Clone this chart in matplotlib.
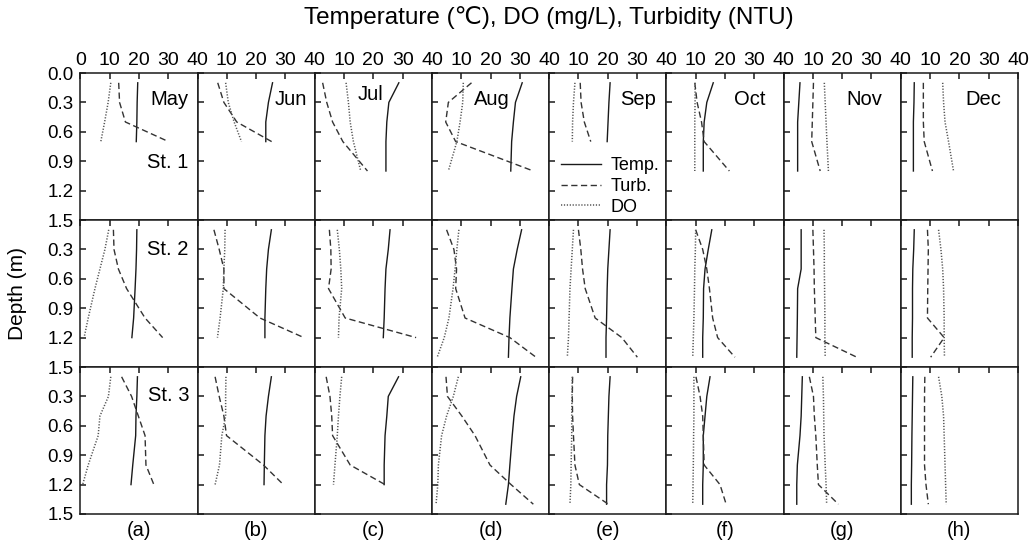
import matplotlib
matplotlib.use('Agg')
import matplotlib.pyplot as plt
from matplotlib.ticker import FixedLocator, FuncFormatter

plt.rcParams['font.family'] = ['Liberation Sans', 'DejaVu Sans']

months = ['May', 'Jun', 'Jul', 'Aug', 'Sep', 'Oct', 'Nov', 'Dec']
panel_tags = ['(a)', '(b)', '(c)', '(d)', '(e)', '(f)', '(g)', '(h)']
stations = ['St. 1', 'St. 2', 'St. 3']

d4 = [0.1, 0.3, 0.5, 0.7]
d5 = [0.1, 0.3, 0.5, 0.7, 1.0]
d6 = [0.1, 0.3, 0.5, 0.7, 1.0, 1.2]
d7 = [0.1, 0.3, 0.5, 0.7, 1.0, 1.2, 1.4]

# sampling depths (m), one list per month, for each station
depth_st1 = [d4, d4, d5, d5, d4, d5, d5, d5]
depth_st2 = [d6, d6, d6, d7, d7, d7, d7, d7]
depth_st3 = [d6, d6, d6, d7, d7, d7, d7, d7]

# water temperature (degC)
temp_st1 = [[19.6, 19.4, 19.3, 19.1],
            [25.6, 24.2, 23.3, 23.3],
            [28.7, 25.3, 24.6, 24.3, 24.3],
            [30.8, 28.5, 27.8, 27.2, 26.9],
            [20.8, 20.4, 20.1, 19.8],
            [16.0, 13.8, 12.9, 12.6, 12.6],
            [5.6, 5.2, 4.8, 4.8, 4.8],
            [4.6, 4.5, 4.3, 4.3, 4.3]]
temp_st2 = [[19.3, 19.2, 19.0, 18.7, 18.2, 17.6],
            [25.2, 24.2, 23.6, 23.3, 23.0, 23.0],
            [25.7, 25.1, 24.3, 24.0, 23.7, 23.4],
            [30.6, 29.1, 27.8, 27.3, 26.6, 26.3, 26.1],
            [20.8, 20.4, 20.0, 19.8, 19.6, 19.4, 19.4],
            [15.5, 14.3, 13.2, 12.7, 12.6, 12.4, 12.4],
            [6.0, 6.0, 6.0, 4.8, 4.7, 4.6, 4.5],
            [4.6, 4.4, 4.1, 4.0, 4.0, 3.9, 3.9]]
temp_st3 = [[19.5, 19.3, 19.0, 18.9, 17.9, 17.3],
            [25.2, 24.2, 23.4, 23.0, 22.8, 22.7],
            [28.6, 25.1, 24.6, 24.0, 23.7, 23.7],
            [30.3, 28.9, 28.0, 27.4, 26.6, 26.1, 25.2],
            [20.8, 20.4, 20.2, 20.0, 19.9, 19.6, 19.6],
            [14.9, 13.8, 13.2, 12.6, 12.6, 12.4, 12.4],
            [6.4, 6.2, 6.0, 5.6, 4.7, 4.5, 4.5],
            [4.1, 4.0, 3.9, 3.8, 3.7, 3.6, 3.6]]

# turbidity (NTU)
turb_st1 = [[13.1, 13.4, 15.4, 30.1],
            [6.9, 9.0, 13.4, 25.3],
            [2.7, 4.1, 6.1, 9.6, 18.0],
            [13.5, 5.6, 4.7, 8.1, 34.6],
            [10.6, 10.9, 12.0, 14.2],
            [9.7, 10.5, 12.0, 12.9, 21.5],
            [10.2, 10.0, 9.8, 9.6, 12.5],
            [7.7, 7.7, 7.7, 8.0, 10.8]]
turb_st2 = [[11.3, 11.5, 13.0, 15.8, 22.1, 28.1],
            [5.6, 7.4, 9.0, 9.0, 21.3, 36.3],
            [5.0, 5.5, 5.6, 4.7, 10.4, 34.6],
            [5.0, 7.5, 8.4, 8.1, 11.3, 26.6, 35.5],
            [10.0, 10.8, 11.4, 12.3, 15.7, 24.8, 30.1],
            [10.0, 12.4, 13.8, 14.7, 15.8, 17.5, 23.4],
            [10.0, 10.2, 10.4, 10.5, 10.8, 11.0, 25.0],
            [9.1, 9.4, 9.3, 9.2, 9.1, 14.8, 10.2]]
turb_st3 = [[14.1, 17.5, 19.8, 22.1, 22.4, 25.1],
            [6.0, 7.4, 9.0, 9.9, 22.5, 29.3],
            [3.9, 5.2, 5.8, 6.1, 12.1, 24.0],
            [4.8, 5.3, 10.2, 14.7, 19.8, 27.0, 34.6],
            [8.0, 7.9, 8.0, 8.3, 8.8, 10.3, 20.2],
            [10.1, 11.5, 12.4, 12.6, 12.9, 18.3, 20.4],
            [8.8, 10.2, 10.5, 11.0, 11.5, 11.9, 18.7],
            [8.2, 8.1, 8.1, 8.1, 8.1, 8.6, 9.4]]

# dissolved oxygen (mg/L)
do_st1 = [[10.4, 9.5, 8.3, 7.0],
          [9.6, 10.5, 12.5, 15.0],
          [10.7, 11.5, 12.1, 13.2, 15.7],
          [10.7, 10.5, 9.6, 8.5, 5.6],
          [8.8, 8.3, 8.0, 7.9],
          [9.8, 9.8, 9.7, 9.7, 9.7],
          [13.9, 14.2, 14.5, 14.8, 15.3],
          [14.3, 14.6, 15.1, 16.3, 18.0]]
do_st2 = [[9.7, 8.4, 6.7, 5.0, 2.7, 1.3],
          [9.4, 9.3, 9.0, 8.8, 7.7, 6.8],
          [7.7, 8.4, 8.9, 9.2, 8.3, 8.1],
          [9.2, 8.5, 7.9, 7.2, 5.8, 4.2, 1.8],
          [8.3, 7.9, 7.5, 7.1, 6.8, 6.6, 6.2],
          [10.0, 9.9, 9.7, 9.6, 9.4, 9.2, 9.0],
          [13.8, 13.9, 13.9, 14.0, 14.1, 14.1, 14.2],
          [12.9, 13.7, 14.3, 14.6, 14.8, 14.8, 14.9]]
do_st3 = [[10.4, 9.6, 6.7, 6.1, 2.7, 0.8],
          [9.7, 9.6, 9.6, 8.3, 7.5, 6.0],
          [9.2, 8.6, 8.1, 7.7, 6.9, 6.4],
          [9.0, 7.3, 5.0, 3.3, 2.2, 2.0, 1.4],
          [7.9, 7.8, 7.7, 7.7, 7.5, 7.4, 7.1],
          [9.4, 9.4, 9.4, 9.3, 9.2, 9.1, 9.0],
          [13.4, 13.6, 13.7, 13.8, 14.2, 14.5, 14.7],
          [12.9, 14.0, 14.6, 14.8, 15.1, 15.3, 15.5]]

depths = [depth_st1, depth_st2, depth_st3]
temps = [temp_st1, temp_st2, temp_st3]
turbs = [turb_st1, turb_st2, turb_st3]
dos = [do_st1, do_st2, do_st3]

# month label centre (x, y) inside each top-row panel, axes coords
month_pos = [(0.76, 0.82), (0.80, 0.82), (0.48, 0.855), (0.51, 0.82),
             (0.755, 0.82), (0.71, 0.82), (0.685, 0.82), (0.70, 0.82)]
station_pos = [(0.925, 0.39), (0.925, 0.80), (0.935, 0.805)]


def xlab(col):
    # only the first column keeps its 0, the others would sit on the 40 of their neighbour
    return FuncFormatter(lambda v, p: '' if (col > 0 and v == 0) else '%d' % v)


def ylab(row):
    return FuncFormatter(lambda v, p: '' if (row > 0 and v == 0) else '%.1f' % v)


fig, axes = plt.subplots(3, 8, figsize=(10.33, 5.48), dpi=100)
fig.subplots_adjust(left=80.3 / 1033, right=1018 / 1033, top=1 - 73 / 548,
                    bottom=1 - 514 / 548, wspace=0, hspace=0)

ink = '#1a1a1a'
for r in range(3):
    for c in range(8):
        ax = axes[r, c]
        z = depths[r][c]
        ax.plot(temps[r][c], z, color=ink, lw=1.0, ls='-', label='Temp.')
        ax.plot(turbs[r][c], z, color='#333333', lw=1.0, ls=(0, (4.5, 2.5)), label='Turb.')
        ax.plot(dos[r][c], z, color='#555555', lw=1.1, ls=(0, (0.8, 1.1)), label='DO')

        ax.set_xlim(0, 40)
        ax.set_ylim(1.5, 0)
        for s in ax.spines.values():
            s.set_linewidth(1.1)
            s.set_color(ink)

        ax.xaxis.set_major_locator(FixedLocator([0, 10, 20, 30, 40]))
        ax.yaxis.set_major_locator(FixedLocator([0, 0.3, 0.6, 0.9, 1.2, 1.5]))
        ax.xaxis.set_major_formatter(xlab(c))
        ax.yaxis.set_major_formatter(ylab(r))
        ax.tick_params(axis='x', direction='in', length=4, width=1.1, color=ink,
                       top=True, bottom=False, labeltop=(r == 0), labelbottom=False,
                       labelsize=14, pad=3)
        ax.tick_params(axis='y', direction='in', length=4, width=1.1, color=ink,
                       left=True, right=False, labelleft=(c == 0), labelsize=13.5, pad=5)

        if r == 0:
            mx, my = month_pos[c]
            ax.text(mx, my, months[c], transform=ax.transAxes, ha='center', va='center',
                    fontsize=14.5)
        if c == 0:
            sx, sy = station_pos[r]
            ax.text(sx, sy, stations[r], transform=ax.transAxes, ha='right', va='center',
                    fontsize=14.5)
        if r == 2:
            ax.text(0.5, -0.115, panel_tags[c], transform=ax.transAxes, ha='center',
                    va='center', fontsize=14.5)

axes[0, 4].legend(loc='lower left', bbox_to_anchor=(0.1, 0.03), frameon=False,
                  fontsize=13, handlelength=2.2, handletextpad=0.55, labelspacing=0.2,
                  borderpad=0, borderaxespad=0)

fig.text(549 / 1033, 1 - 18 / 548, 'Temperature (\u2103), DO (mg/L), Turbidity (NTU)',
         ha='center', va='center', fontsize=17.5)
fig.text(18 / 1033, 1 - 294 / 548, 'Depth (m)', ha='center', va='center',
         rotation=90, fontsize=15)

fig.savefig('out.png', dpi=100)
